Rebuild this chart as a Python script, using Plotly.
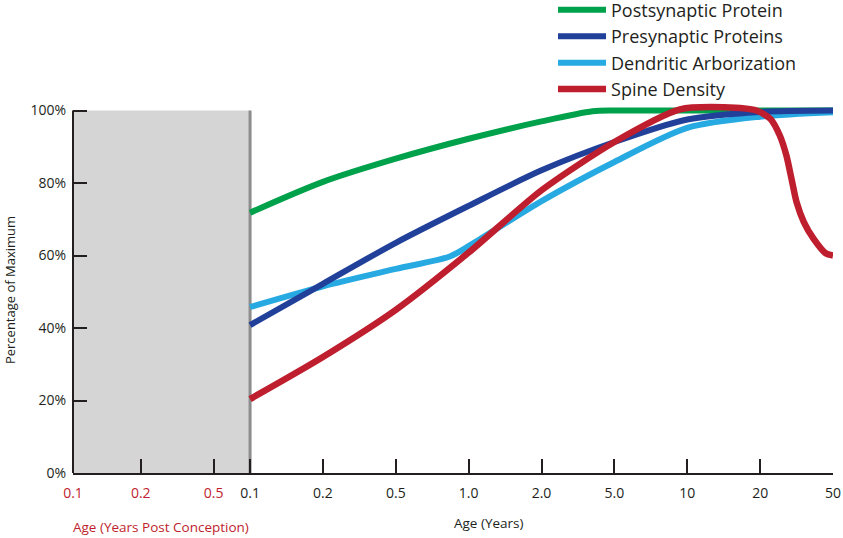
import plotly.graph_objects as go

# tick positions on the axis (left three: years post conception, rest: years)
tick_pos = [-2.43, -1.5, -0.5, 0, 1, 2, 3, 4, 5, 6, 7, 8]
tick_labels = ["0.1", "0.2", "0.5", "0.1", "0.2", "0.5", "1.0", "2.0", "5.0", "10", "20", "50"]
red_ticks = 3

post_x = [0, 1, 2, 3, 4, 4.7, 5, 6, 7, 8]
post_y = [71.8, 80.3, 86.7, 92.2, 97, 99.8, 100, 100, 100, 100]

pre_x = [0, 1, 2, 3, 4, 5, 6, 7, 8]
pre_y = [40.8, 52.2, 63.5, 73.7, 83.5, 91.3, 97.5, 99.6, 100]

dend_x = [0, 1, 2, 2.75, 3.05, 4, 5, 6, 7, 8]
dend_y = [45.8, 51.5, 56.3, 59.8, 63.2, 75, 85.8, 95.2, 98.3, 99.5]

spine_x = [0, 1, 2, 3, 4, 5, 5.9, 6.5, 6.95, 7.14, 7.27, 7.36, 7.43, 7.5, 7.6, 7.73, 7.9, 8.0]
spine_y = [20.4, 32, 45, 60.8, 78, 91.3, 100.3, 100.9, 100, 97.7, 93.1, 87.6, 81.2, 74.7, 69.2, 64.7, 60.6, 60]

dark = "#231f20"
red = "#BE1E2D"
FONT = "Open Sans"

ticktext = [f"<span style='color:{red}'>{t}</span>" if i < red_ticks else t
            for i, t in enumerate(tick_labels)]

fig = go.Figure()
# drawing order: green, light blue, dark blue, red on top
fig.add_trace(go.Scatter(x=post_x, y=post_y, mode="lines", name="Postsynaptic Protein",
                         line=dict(color="#00A14B", width=6, shape="spline", smoothing=0.8),
                         legendrank=1, legendgroup="a"))
fig.add_trace(go.Scatter(x=dend_x, y=dend_y, mode="lines", name="Dendritic Arborization",
                         line=dict(color="#27AAE1", width=6, shape="spline", smoothing=0.8),
                         legendrank=3, legendgroup="c"))
fig.add_trace(go.Scatter(x=pre_x, y=pre_y, mode="lines", name="Presynaptic Proteins",
                         line=dict(color="#21409A", width=6, shape="spline", smoothing=0.8),
                         legendrank=2, legendgroup="b"))
fig.add_trace(go.Scatter(x=spine_x, y=spine_y, mode="lines", name="Spine Density",
                         line=dict(color=red, width=6.5, shape="spline", smoothing=0.7),
                         legendrank=4, legendgroup="d"))

# gray prenatal box, its border, and the y axis line (stops at 100%)
fig.add_shape(type="rect", xref="x", yref="y", x0=tick_pos[0], x1=0, y0=0, y1=100,
              fillcolor="#D5D5D5", line_width=0, layer="below")
fig.add_shape(type="line", xref="x", yref="y", x0=0, x1=0, y0=0, y1=100,
              line=dict(color="#8C8C8C", width=3), layer="below")
fig.add_shape(type="line", xref="paper", yref="y", x0=0, x1=0, y0=0, y1=100,
              line=dict(color=dark, width=2))

fig.add_annotation(text="Age (Years Post Conception)", xref="paper", yref="paper",
                   x=-0.003, y=-0.143, xanchor="left", yanchor="middle", showarrow=False,
                   font=dict(family=FONT, size=13.5, color=red))
fig.add_annotation(text="Age (Years)", xref="paper", yref="paper",
                   x=0.548, y=-0.133, xanchor="center", yanchor="middle", showarrow=False,
                   font=dict(family=FONT, size=13.5, color=dark))
fig.add_annotation(text="Percentage of Maximum", xref="paper", yref="paper",
                   x=-0.083, y=0.485, textangle=-90, xanchor="center", yanchor="middle",
                   showarrow=False, font=dict(family=FONT, size=13, color=dark))

fig.update_layout(
    width=843, height=538,
    margin=dict(l=73, r=10, t=95.5, b=65, autoexpand=False),
    plot_bgcolor="white", paper_bgcolor="white",
    font=dict(family=FONT, color=dark),
    xaxis=dict(range=[tick_pos[0], 8], tickvals=tick_pos, ticktext=ticktext,
               showgrid=False, zeroline=False, showline=True, linecolor=dark, linewidth=2,
               ticks="inside", ticklen=14, tickwidth=2, tickcolor=dark, ticklabelstandoff=6,
               tickfont=dict(size=14, color=dark, family=FONT)),
    yaxis=dict(range=[0, 104], tickvals=[0, 20, 40, 60, 80, 100],
               ticktext=["0%", "20%", "40%", "60%", "80%", "100%"],
               showgrid=False, zeroline=False, showline=False,
               ticks="inside", ticklen=14, tickwidth=2, tickcolor=dark, ticklabelstandoff=6,
               tickfont=dict(size=14, color=dark, family=FONT)),
    legend=dict(x=0.6316, y=1.2768, xanchor="left", yanchor="top",
                font=dict(size=18, family=FONT, color=dark),
                bgcolor="rgba(0,0,0,0)", itemwidth=48, tracegroupgap=0),
    showlegend=True,
)

fig.write_html("out.html", config={"displayModeBar": False},
               post_script="document.body.style.margin='0px';")
